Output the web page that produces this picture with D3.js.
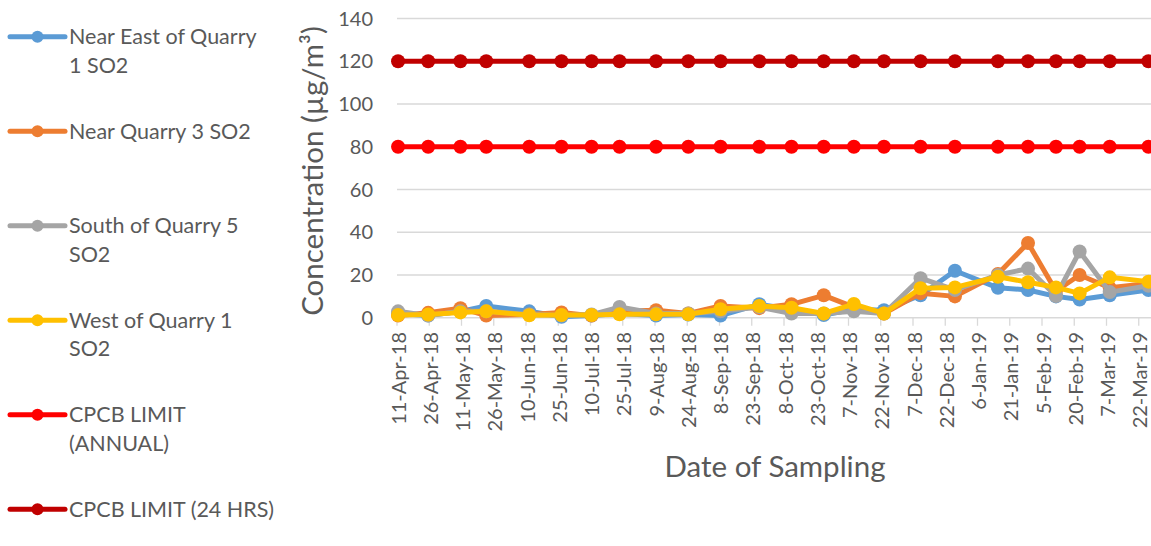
<!DOCTYPE html>
<html>
<head>
<meta charset="utf-8">
<script src="https://cdn.jsdelivr.net/npm/d3@7"></script>
<style>
  body { margin: 0; background: #fff; }
  text { font-family: Lato, "Open Sans", sans-serif; fill: #595959; }
</style>
</head>
<body>
<div id="chart"></div>
<script>
// sampling dates
var sampleDates = ["2018-04-11", "2018-04-25", "2018-05-10", "2018-05-22", "2018-06-11", "2018-06-26",
    "2018-07-10", "2018-07-23", "2018-08-09", "2018-08-24", "2018-09-08", "2018-09-26",
    "2018-10-11", "2018-10-26", "2018-11-09", "2018-11-23", "2018-12-10", "2018-12-26",
    "2019-01-15", "2019-01-29", "2019-02-11", "2019-02-22", "2019-03-08", "2019-03-26"];

var nearEast1 = [2, 1, 3, 5.5, 3, 0.5, 1, 2, 1, 1.5, 1, 6.3, 4, 1.3, 4, 3.5, 10.5, 22, 14, 13, 10, 8.5, 10.5, 13];
var nearQuarry3 = [1, 2.3, 4.5, 1, 1.5, 2.5, 1, 3, 3.5, 2, 5.5, 4.5, 6.3, 10.5, 5, 2, 11.5, 10, 20.5, 35, 12.5, 20, 14, 16];
var southQuarry5 = [3, 1, 3, 3, 1.5, 1, 1.5, 5, 2, 2, 3, 5, 2, 2, 3, 2, 18.5, 13, 20, 23, 10.2, 31, 12, 15];
var westQuarry1 = [1.3, 1.5, 2.5, 3, 1.2, 1.3, 1.3, 1.6, 1.6, 1.6, 4, 5.5, 4.7, 2, 6.4, 2, 13.8, 14.2, 19.2, 16.6, 14.2, 11.4, 18.9, 16.9];
var cpcbAnnual = [80, 80, 80, 80, 80, 80, 80, 80, 80, 80, 80, 80, 80, 80, 80, 80, 80, 80, 80, 80, 80, 80, 80, 80];
var cpcb24hrs = [120, 120, 120, 120, 120, 120, 120, 120, 120, 120, 120, 120, 120, 120, 120, 120, 120, 120, 120, 120, 120, 120, 120, 120];

var seriesNames = ["Near East of Quarry 1 SO2", "Near Quarry 3 SO2", "South of Quarry 5 SO2",
    "West of Quarry 1 SO2", "CPCB LIMIT (ANNUAL)", "CPCB LIMIT (24 HRS)"];
var legendLines = [["Near East of Quarry", "1 SO2"], ["Near Quarry 3 SO2"], ["South of Quarry 5", "SO2"],
    ["West of Quarry 1", "SO2"], ["CPCB LIMIT", "(ANNUAL)"], ["CPCB LIMIT (24 HRS)"]];
var seriesColors = ["#5B9BD5", "#ED7D31", "#A5A5A5", "#FFC000", "#FF0000", "#C00000"];

var yTicks = [0, 20, 40, 60, 80, 100, 120, 140];
var xTickLabels = ["11-Apr-18", "26-Apr-18", "11-May-18", "26-May-18", "10-Jun-18", "25-Jun-18",
    "10-Jul-18", "25-Jul-18", "9-Aug-18", "24-Aug-18", "8-Sep-18", "23-Sep-18", "8-Oct-18",
    "23-Oct-18", "7-Nov-18", "22-Nov-18", "7-Dec-18", "22-Dec-18", "6-Jan-19", "21-Jan-19",
    "5-Feb-19", "20-Feb-19", "7-Mar-19", "22-Mar-19"];

var width = 1151, height = 546;
var plotLeft = 397, plotRight = 1149.5, plotTop = 18.5, plotBottom = 317.75;

var parseIso = d3.timeParse("%Y-%m-%d");
var parseTick = d3.timeParse("%d-%b-%y");

var allValues = [nearEast1, nearQuarry3, southQuarry5, westQuarry1, cpcbAnnual, cpcb24hrs];
var series = allValues.map(function (vals, i) {
    return {
        name: seriesNames[i],
        color: seriesColors[i],
        points: vals.map(function (v, j) { return { date: parseIso(sampleDates[j]), value: v }; })
    };
});

var x = d3.scaleTime()
    .domain([parseIso("2018-04-11"), parseIso("2019-03-27")])
    .range([plotLeft, plotRight]);
var y = d3.scaleLinear().domain([0, 140]).range([plotBottom, plotTop]);

// points sit in the middle of their day slot, like a date axis in a spreadsheet
function px(d) { return x(d3.timeHour.offset(d.date, 12)); }

var svg = d3.select("#chart").append("svg")
    .attr("width", width).attr("height", height);

// gridlines
svg.append("g").selectAll("line")
    .data(yTicks.filter(function (t) { return t > 0; }))
    .enter().append("line")
    .attr("x1", plotLeft).attr("x2", width)
    .attr("y1", function (d) { return y(d); }).attr("y2", function (d) { return y(d); })
    .attr("stroke", "#d9d9d9").attr("stroke-width", 1.3);

// x axis line + ticks
var tickDates = xTickLabels.map(function (s) { return parseTick(s); });
svg.append("line")
    .attr("x1", plotLeft).attr("x2", width)
    .attr("y1", y(0)).attr("y2", y(0))
    .attr("stroke", "#d9d9d9").attr("stroke-width", 1.3);
svg.append("g").selectAll("line")
    .data(tickDates)
    .enter().append("line")
    .attr("x1", function (d) { return x(d); }).attr("x2", function (d) { return x(d); })
    .attr("y1", y(0)).attr("y2", y(0) + 8)
    .attr("stroke", "#d9d9d9").attr("stroke-width", 1.3);

// y tick labels
svg.append("g").selectAll("text")
    .data(yTicks)
    .enter().append("text")
    .attr("x", 373)
    .attr("y", function (d) { return y(d); })
    .attr("dy", "0.35em")
    .attr("text-anchor", "end")
    .style("font-size", "20px")
    .text(function (d) { return d; });

// x tick labels
svg.append("g").selectAll("text")
    .data(tickDates)
    .enter().append("text")
    .attr("transform", function (d, i) { return "translate(" + (x(d) + 1.5) + ",332) rotate(-90)"; })
    .attr("dy", "0.35em")
    .attr("text-anchor", "end")
    .style("font-size", "20px")
    .text(function (d, i) { return xTickLabels[i]; });

// axis titles
svg.append("text")
    .attr("x", 775).attr("y", 467)
    .attr("dy", "0.35em")
    .attr("text-anchor", "middle")
    .style("font-size", "29.5px")
    .text("Date of Sampling");
svg.append("text")
    .attr("transform", "translate(313,171) rotate(-90)")
    .attr("dy", "0.35em")
    .attr("text-anchor", "middle")
    .style("font-size", "29.5px")
    .text("Concentration (\u00b5g/m\u00b3)");

// series
var line = d3.line()
    .x(px)
    .y(function (d) { return y(d.value); });

var seriesG = svg.append("g").selectAll("g")
    .data(series)
    .enter().append("g");
seriesG.append("path")
    .attr("fill", "none")
    .attr("stroke", function (d) { return d.color; })
    .attr("stroke-width", 5)
    .attr("stroke-linejoin", "round")
    .attr("d", function (d) { return line(d.points); });
seriesG.selectAll("circle")
    .data(function (d) { return d.points.map(function (p) { return { p: p, color: d.color }; }); })
    .enter().append("circle")
    .attr("cx", function (d) { return px(d.p); })
    .attr("cy", function (d) { return y(d.p.value); })
    .attr("r", 7)
    .attr("fill", function (d) { return d.color; });

// legend
var legend = svg.append("g").selectAll("g")
    .data(series)
    .enter().append("g")
    .attr("transform", function (d, i) { return "translate(0," + (36.7 + i * 94.5) + ")"; });
legend.append("line")
    .attr("x1", 10).attr("x2", 65)
    .attr("stroke", function (d) { return d.color; })
    .attr("stroke-width", 5)
    .attr("stroke-linecap", "round");
legend.append("circle")
    .attr("cx", 37.5).attr("r", 6)
    .attr("fill", function (d) { return d.color; });
var legendText = legend.append("text")
    .attr("x", 69)
    .style("font-size", "21.5px");
legendText.selectAll("tspan")
    .data(function (d, i) { return legendLines[i]; })
    .enter().append("tspan")
    .attr("x", 69)
    .attr("y", function (d, i) { return i * 28.5; })
    .attr("dy", "0.35em")
    .text(function (d) { return d; });
</script>
</body>
</html>
